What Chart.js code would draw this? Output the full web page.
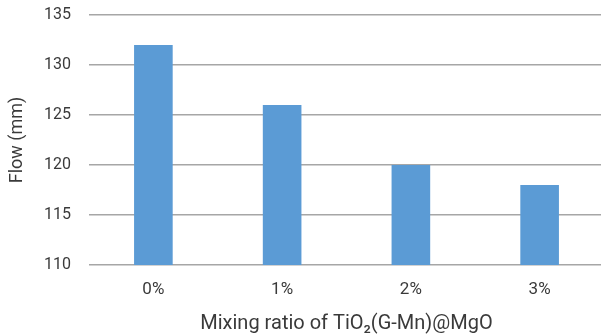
<!DOCTYPE html>
<html>
<head>
<meta charset="utf-8">
<script src="https://cdn.jsdelivr.net/npm/chart.js@4"></script>
<style>
  html, body { margin: 0; padding: 0; background: #fff; overflow: hidden; }
  #wrap { width: 606px; height: 336px; }
</style>
</head>
<body>
<div id="wrap"><canvas id="flowChart" width="606" height="336"></canvas></div>
<script>
// Flow of mixes by TiO2(G-Mn)@MgO mixing ratio
const categories = ['0%', '1%', '2%', '3%'];
const flowValues = [132, 126, 120, 118];
const yTicks = [110, 115, 120, 125, 130, 135];

const textColor = '#3a3a3a';
const gridColor = '#a6a6a6';

const ctx = document.getElementById('flowChart').getContext('2d');
new Chart(ctx, {
  type: 'bar',
  data: {
    labels: categories,
    datasets: [{
      label: 'Flow',
      data: flowValues,
      backgroundColor: '#5b9bd5',
      borderWidth: 0,
      categoryPercentage: 1,
      barPercentage: 0.3,
    }],
  },
  options: {
    responsive: false,
    animation: false,
    layout: { padding: { top: 15, right: 2, left: 0, bottom: 0 } },
    plugins: { legend: { display: false }, tooltip: { enabled: false } },
    scales: {
      x: {
        grid: { display: false, drawTicks: false },
        border: { display: false },
        ticks: { color: textColor, font: { family: 'Roboto', size: 17 }, padding: 15 },
        title: {
          display: true,
          text: 'Mixing ratio of TiO₂(G-Mn)@MgO',
          color: textColor,
          font: { family: 'Roboto', size: 20 },
          padding: { top: 2, bottom: 0 },
        },
        afterFit: (axis) => {
          axis.height = 71;
          axis.paddingLeft = 0;
          axis.paddingRight = 0;
        },
      },
      y: {
        min: 110,
        max: 135,
        afterBuildTicks: (axis) => { axis.ticks = yTicks.map((v) => ({ value: v })); },
        grid: { color: gridColor, lineWidth: 1.5, drawTicks: false },
        border: { display: false },
        ticks: { color: textColor, font: { family: 'Roboto', size: 16 }, padding: 18 },
        title: {
          display: true,
          text: 'Flow (mm)',
          color: textColor,
          font: { family: 'Roboto', size: 18 },
          padding: { top: 7, bottom: 0 },
        },
        afterFit: (axis) => {
          axis.width = 89;
          axis.paddingTop = 0;
          axis.paddingBottom = 0;
        },
      },
    },
  },
});
</script>
</body>
</html>
